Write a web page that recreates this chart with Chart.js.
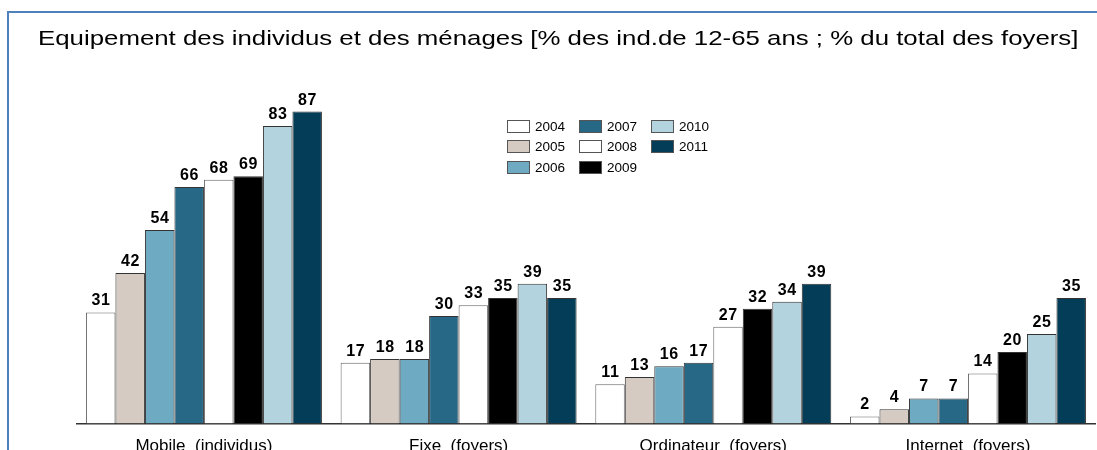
<!DOCTYPE html>
<html>
<head>
<meta charset="utf-8">
<script src="https://cdn.jsdelivr.net/npm/chart.js@4"></script>
<style>
  html, body { margin: 0; padding: 0; background: #fff; overflow: hidden; }
  #wrap { position: relative; width: 1097px; height: 450px; overflow: hidden; }
  #frame { position: absolute; left: 7px; top: 11px; width: 1200px; height: 500px;
           border-left: 2px solid #4f81bd; border-top: 2px solid #4f81bd; }
  #chartBox { position: absolute; left: 0; top: 0; width: 1097px; height: 480px; }
  #title { position: absolute; left: 38px; top: 26px; white-space: nowrap; line-height: 24px;
           font: 21px "Liberation Sans", Arial, sans-serif; color: #000; transform-origin: 0 0; }
  #legend { position: absolute; left: 507px; top: 116px; display: grid;
            grid-template-rows: repeat(3, 20.5px); grid-auto-flow: column;
            grid-auto-columns: 72px; font: 13.5px "Liberation Sans", Arial, sans-serif; color: #000; }
  #legend div { display: flex; align-items: center; height: 20.5px; }
  #legend span { display: inline-block; width: 21px; height: 11px; border: 1px solid #555; margin-right: 5px; }
</style>
</head>
<body>
<div id="wrap">
  <div id="frame"></div>
  <div id="chartBox"><canvas id="chart" width="1097" height="480"></canvas></div>
  <div id="title">Equipement des individus et des ménages [% des ind.de 12-65 ans ; % du total des foyers]</div>
  <div id="legend"></div>
</div>
<script>
// catégories et séries
const categories = ['Mobile  (individus)', 'Fixe  (foyers)', 'Ordinateur  (foyers)', 'Internet  (foyers)'];
const years = ['2004', '2005', '2006', '2007', '2008', '2009', '2010', '2011'];
const v2004 = [31, 17, 11, 2];
const v2005 = [42, 18, 13, 4];
const v2006 = [54, 18, 16, 7];
const v2007 = [66, 30, 17, 7];
const v2008 = [68, 33, 27, 14];
const v2009 = [69, 35, 32, 20];
const v2010 = [83, 39, 34, 25];
const v2011 = [87, 35, 39, 35];
const seriesValues = [v2004, v2005, v2006, v2007, v2008, v2009, v2010, v2011];
const colors = ['#ffffff', '#d6cbc3', '#6eaac1', '#266886', '#ffffff', '#000000', '#b3d3de', '#033d57'];

// étiquettes de valeur au-dessus des barres
const valueLabels = {
  id: 'valueLabels',
  afterDatasetsDraw(chart) {
    const ctx = chart.ctx;
    ctx.save();
    ctx.font = 'bold 16px "Liberation Sans", Arial, sans-serif';
    ctx.letterSpacing = '0.6px';
    ctx.fillStyle = '#000';
    ctx.textAlign = 'center';
    ctx.textBaseline = 'alphabetic';
    chart.data.datasets.forEach((ds, i) => {
      chart.getDatasetMeta(i).data.forEach((bar, j) => {
        ctx.fillText(ds.data[j], bar.x + 0.3, bar.y - 7);
      });
    });
    ctx.restore();
  }
};

new Chart(document.getElementById('chart'), {
  type: 'bar',
  data: {
    labels: categories,
    datasets: years.map((y, i) => ({
      label: y,
      data: seriesValues[i],
      backgroundColor: colors[i],
      borderColor: i === 0 || i === 4 ? '#666' : '#333',
      borderWidth: 1,
      barPercentage: 1,
      categoryPercentage: 0.9266
    }))
  },
  options: {
    responsive: false,
    animation: false,
    layout: { padding: { left: 76.6, right: 1.7, top: 65, bottom: 18 } },
    plugins: {
      legend: { display: false },
      tooltip: { enabled: false },
      title: { display: false }
    },
    scales: {
      x: {
        grid: { display: false },
        border: { color: '#333', width: 1.5 },
        ticks: { color: '#000', padding: 5,
                 font: { family: '"Liberation Sans", Arial, sans-serif', size: 17 } }
      },
      y: { display: false, min: 0, max: 100 }
    }
  },
  plugins: [valueLabels]
});

// titre étiré sur la largeur du cadre
const title = document.getElementById('title');
title.style.transform = 'scaleX(' + (1040 / title.offsetWidth) + ')';

// légende en colonnes
const legend = document.getElementById('legend');
years.forEach((y, i) => {
  const d = document.createElement('div');
  d.innerHTML = '<span style="background:' + colors[i] + '"></span>' + y;
  legend.appendChild(d);
});
</script>
</body>
</html>
